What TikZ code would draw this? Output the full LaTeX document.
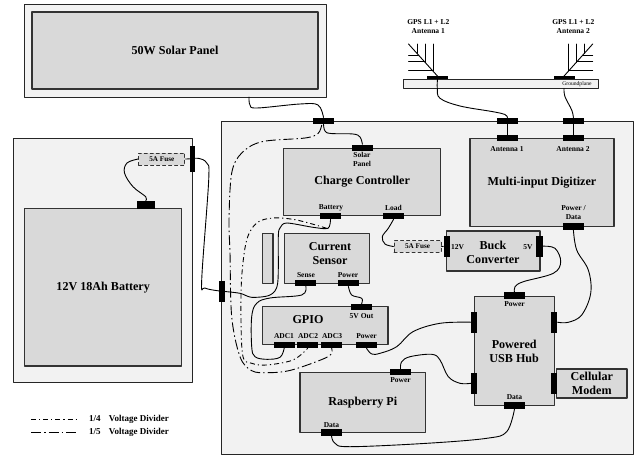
\documentclass[tikz,border=0pt]{standalone}
\usepackage{fontspec}
\setmainfont{Liberation Serif}
\usetikzlibrary{calc,positioning}

\begin{document}
\begin{tikzpicture}[x=1pt, y=-1pt, line join=round, line cap=round,
		shell/.style={draw=black!85, line width=0.9pt, fill=shellgray, inner sep=0pt},
		box/.style={draw=black!80, line width=1.1pt, fill=boxgray, inner sep=0pt, align=center, font=\titlefont},
		title/.style={inner sep=0pt, align=center, font=\titlefont},
		tag/.style={inner sep=0pt, align=center, font=\tagfont},
		portwide/.style={fill=black, inner sep=0pt, minimum width=21pt, minimum height=6.4pt},
		porttall/.style={fill=black, inner sep=0pt, minimum width=6.4pt, minimum height=21pt},
		fuse/.style={draw=black!80, dashed, line width=1pt, fill=boxgray, inner sep=0pt, font=\fusefont},
		wire/.style={black, line width=0.9pt},
		quarter/.style={black, line width=0.9pt, line cap=butt, dash pattern=on 5pt off 3pt on 1.2pt off 3pt},
		fifth/.style={black, line width=0.9pt, line cap=butt, dash pattern=on 10pt off 3pt on 1.5pt off 3pt}]
		
		% Colors and fonts
		\definecolor{shellgray}{RGB}{242, 242, 242}
		\definecolor{boxgray}{RGB}{217, 217, 217}
		\newcommand{\titlefont}{\fontsize{12.1}{14}\selectfont\bfseries}
		\newcommand{\tagfont}{\fontsize{7.5}{9}\selectfont\bfseries}
		\newcommand{\fusefont}{\fontsize{7.2}{8}\selectfont\bfseries}
		
		\useasboundingbox (0,0) rectangle (634,455);
		
		% 1. Enclosures
		\node[shell, minimum width=302pt, minimum height=93pt] (solarCase) at (175,50.5) {};
		\node[shell, minimum width=179pt, minimum height=244.7pt] (batteryCase) at (103.2,260.4) {};
		\node[shell, minimum width=411.3pt, minimum height=333pt] (mainCase) at (427.4,287.5) {};
		
		% 2. Solar panel and battery
		\node[box, minimum width=286pt, minimum height=77pt] (solar) at (175,50.5) {50W Solar Panel};
		\node[box, minimum width=157pt, minimum height=157.3pt] (battery) at (103.2,287.3) {12V 18Ah Battery};
		
		% 3. Groundplane and antennas
		\node[draw=black!85, line width=0.9pt, fill=shellgray, inner sep=0pt, minimum width=195pt, minimum height=9.3pt] (ground) at (501.2,83.6) {};
		\node[inner sep=0pt, font=\fontsize{5.6}{6}\selectfont] (groundTag) at (577,84) {Groundplane};
		\node[tag] (antennaOneTag) at (428.3,27) {GPS L1 + L2\\Antenna 1};
		\node[tag] (antennaTwoTag) at (573.3,27) {GPS L1 + L2\\Antenna 2};
		\node[portwide, minimum height=2.8pt] (groundOne) at (437.5,77.7) {};
		\node[portwide, minimum height=2.8pt] (groundTwo) at (564,77.7) {};
		
		\coordinate (tipOne) at (408.5,44);
		\coordinate (tipTwo) at (592.7,44);
		\draw[wire] (groundOne.north) -- (tipOne);
		\draw[wire] (417.5,44) -- (417.5,53.5);
		\draw[wire] (425.5,44) -- (425.5,62.5);
		\draw[wire] (433,44) -- (433,71);
		\draw[wire] (408.5,55) -- (418.5,55);
		\draw[wire] (408.5,61.7) -- (424.5,61.7);
		\draw[wire] (408.5,70) -- (432.5,70);
		\draw[wire] (groundTwo.north) -- (tipTwo);
		\draw[wire] (584,44) -- (584,53.5);
		\draw[wire] (576,44) -- (576,62.5);
		\draw[wire] (568.5,44) -- (568.5,71);
		\draw[wire] (592.7,55) -- (583,55);
		\draw[wire] (592.7,61.7) -- (577,61.7);
		\draw[wire] (592.7,70) -- (569,70);
		
		% 4. Boxes inside the main enclosure
		\node[box, minimum width=157pt, minimum height=67pt] (charge) at (362.2,181.8) {Charge Controller};
		\node[box, minimum width=144pt, minimum height=88.4pt] (digitizer) at (542,182.5) {Multi-input Digitizer};
		\node[box, minimum width=93.3pt, minimum height=40pt] (buck) at (493.3,251) {};
		\node[title] (buckTag) at (493,252) {Buck\\Converter};
		\node[box, minimum width=85.3pt, minimum height=50.4pt] (sensor) at (326.7,258.5) {};
		\node[title] (sensorTag) at (330,254) {Current\\Sensor};
		\node[box, minimum width=10.3pt, minimum height=50.4pt] (shunt) at (267.8,258.5) {};
		\node[box, minimum width=125.3pt, minimum height=38pt] (gpio) at (325.3,325.3) {};
		\node[title] (gpioTag) at (308,320) {GPIO};
		\node[box, minimum width=125.7pt, minimum height=60pt] (pi) at (362.8,402.3) {Raspberry Pi};
		\node[box, minimum width=80.3pt, minimum height=109pt] (hub) at (514.2,351.2) {Powered\\USB Hub};
		\node[box, minimum width=70.3pt, minimum height=29pt] (modem) at (591.8,383.5) {Cellular\\Modem};
		\node[fuse, minimum width=46.3pt, minimum height=12pt] (fuseBattery) at (161.8,159) {5A Fuse};
		\node[fuse, minimum width=47pt, minimum height=11.6pt] (fuseBuck) at (417.5,246.5) {5A Fuse};
		
		% 5. Ports
		\node[portwide, minimum width=18.3pt, minimum height=8pt] (batteryTop) at (145.8,204.7) {};
		\node[porttall, minimum width=5.4pt, minimum height=26.3pt] (batteryOut) at (192.5,158.8) {};
		\node[porttall] (mainLeft) at (221.7,291.2) {};
		\node[portwide] (mainSolar) at (323.5,120.9) {};
		\node[portwide] (mainOne) at (507.4,120.9) {};
		\node[portwide] (mainTwo) at (573.4,120.9) {};
		\node[portwide] (digOne) at (507.4,138.2) {};
		\node[portwide] (digTwo) at (573.4,138.2) {};
		\node[portwide] (digPower) at (573.4,226.5) {};
		\node[portwide] (chargeSolar) at (362.4,147.7) {};
		\node[portwide] (chargeBattery) at (330.5,216) {};
		\node[portwide] (chargeLoad) at (393.5,216) {};
		\node[porttall] (buckIn) at (446.7,246.2) {};
		\node[porttall] (buckOut) at (539.3,246.2) {};
		\node[portwide] (sensorSense) at (305.8,283) {};
		\node[portwide] (sensorPower) at (348.4,283) {};
		\node[portwide] (gpioOut) at (361.6,307.1) {};
		\node[portwide] (adcOne) at (284.2,344.8) {};
		\node[portwide] (adcTwo) at (307.8,344.8) {};
		\node[portwide] (adcThree) at (331.6,344.8) {};
		\node[portwide] (gpioPower) at (366.5,344.8) {};
		\node[portwide] (piPower) at (400.5,372) {};
		\node[portwide] (piData) at (331.5,432.3) {};
		\node[portwide] (hubPower) at (514.5,295.5) {};
		\node[portwide] (hubData) at (514.5,405.6) {};
		\node[porttall] (hubLeftA) at (474.1,322.2) {};
		\node[porttall] (hubLeftB) at (474.1,383.3) {};
		\node[porttall] (hubRightA) at (554.1,322.2) {};
		\node[porttall] (hubRightB) at (554.1,383.3) {};
		
		% 6. Port labels
		\node[tag] (chargeSolarTag) at (362,159.5) {Solar\\Panel};
		\node[tag] (chargeBatteryTag) at (331,207.5) {Battery};
		\node[tag] (chargeLoadTag) at (393.5,207.5) {Load};
		\node[tag] (digOneTag) at (507,149) {Antenna 1};
		\node[tag] (digTwoTag) at (573,149) {Antenna 2};
		\node[tag] (digPowerTag) at (573.5,212.5) {Power /\\Data};
		\node[tag] (buckInTag) at (457.5,247) {12V};
		\node[tag] (buckOutTag) at (528,247) {5V};
		\node[tag] (senseTag) at (306,275) {Sense};
		\node[tag] (sensorPowerTag) at (348,275.5) {Power};
		\node[tag] (gpioOutTag) at (361.5,316) {5V Out};
		\node[tag] (adcOneTag) at (284,336) {ADC1};
		\node[tag] (adcTwoTag) at (308,336) {ADC2};
		\node[tag] (adcThreeTag) at (332,336) {ADC3};
		\node[tag] (gpioPowerTag) at (366.5,336) {Power};
		\node[tag] (piPowerTag) at (400.5,380.5) {Power};
		\node[tag] (piDataTag) at (331.5,425) {Data};
		\node[tag] (hubPowerTag) at (514.5,304.5) {Power};
		\node[tag] (hubDataTag) at (514.5,397) {Data};
		
		% 7. Wires
		\draw[wire] plot[smooth, tension=0.6] coordinates {(249,97) (250,105) (257,108) (300,104) (318,105) (mainSolar.north)};
		\draw[wire] plot[smooth, tension=0.6] coordinates {(mainSolar.south) (325,131) (331,133.5) (353,134) (360,137) (chargeSolar.north)};
		\draw[wire] plot[smooth, tension=0.6] coordinates {(groundOne.south) (437.3,88.3) (440,98.3) (460,106) (493,111.7) (505,114.5) (mainOne.north)};
		\draw[wire] plot[smooth, tension=0.6] coordinates {(564,88.3) (565,96.7) (571.7,110) (mainTwo.north)};
		\draw[wire] (mainOne) -- (digOne);
		\draw[wire] (mainTwo) -- (digTwo);
		\draw[wire] plot[smooth, tension=0.6] coordinates {(batteryTop.north) (145.7,196.7) (133,186.7) (124.5,173) (127,163) (fuseBattery.west)};
		\draw[wire] (fuseBattery.east) -- (batteryOut);
		\draw[wire] plot[smooth, tension=0.6] coordinates {(batteryOut) (198.3,158.3) (206.7,163) (208.7,180) (201.7,280) (205,288) (mainLeft.center)};
		\draw[wire] plot[smooth, tension=0.5] coordinates {(mainLeft.center) (240,293.3) (251.7,297.3) (270,295) (277.7,283) (278.3,236.7) (280,228) (286.7,223) (313,227.3) (328,228.3) (chargeBattery.south)};
		\draw[wire] plot[smooth, tension=0.6] coordinates {(chargeLoad.south) (388.3,228.3) (382.3,236.7) (385,244) (fuseBuck.west)};
		\draw[wire] (fuseBuck.east) -- (buckIn);
		\draw[wire] plot[smooth, tension=0.6] coordinates {(buckOut.east) (555,248.3) (560.7,261.7) (553.3,273.3) (523.3,281.7) (515,286.7) (hubPower.north)};
		\draw[wire] plot[smooth, tension=0.6] coordinates {(digPower.south) (576.7,250) (588.3,270) (590.7,293.3) (581.7,315) (568.3,322.3) (hubRightA.east)};
		\draw[wire] plot[smooth, tension=0.6] coordinates {(sensorSense.south) (301.7,295) (270,298) (256.7,303.3) (251.7,316.7) (251.7,346.7) (255,356.7) (266.7,359.3) (280,357.3) (adcOne.south)};
		\draw[wire] plot[smooth, tension=0.6] coordinates {(sensorPower.south) (351.7,295) (361.7,298.3) (gpioOut.north)};
		\draw[wire] plot[smooth, tension=0.6] coordinates {(gpioPower.south) (371.7,354) (380,353.3) (396.7,346.7) (413,331.7) (440,323.3) (hubLeftA.west)};
		\draw[wire] plot[smooth, tension=0.6] coordinates {(piPower.north) (401.7,361.7) (410,356.7) (431.7,354.3) (440,360) (448.3,376.7) (460,383.3) (hubLeftB.west)};
		\draw[wire] plot[smooth, tension=0.6] coordinates {(piData.south) (335,443.3) (350,446.7) (426.7,443.3) (486.7,438.3) (506.7,431.7) (hubData.south)};
		
		% 8. Voltage divider lines
		\draw[fifth] plot[smooth, tension=0.55] coordinates {(321.7,125) (318,133.5) (305,138) (262,141.7) (241.7,153) (231.7,173) (229,220) (230,253) (231.7,316.7) (240,356.7) (251.7,370.7) (268,372.7) (291.7,370) (328,356.7) (adcThree.south)};
		\draw[quarter] plot[smooth, tension=0.55] coordinates {(326.7,228.3) (296.7,220) (273,218) (256.7,223) (246.7,240) (241.7,276.7) (241,320) (243,356.7) (251.7,363.3) (266.7,365) (293,360) (adcTwo.south)};
		
		% 9. Legend
		\coordinate (quarterStart) at (31,419);
		\coordinate (quarterEnd) at (78,419);
		\coordinate (fifthStart) at (31,432.7);
		\coordinate (fifthEnd) at (78,432.7);
		\draw[quarter] (quarterStart) -- (quarterEnd);
		\draw[fifth] (fifthStart) -- (fifthEnd);
		\node[inner sep=0pt, anchor=west, font=\fontsize{9}{10}\selectfont\bfseries] (quarterTag) at (89,419) {1/4\hspace{6pt} Voltage Divider};
		\node[inner sep=0pt, anchor=west, font=\fontsize{9}{10}\selectfont\bfseries] (fifthTag) at (89,432.7) {1/5\hspace{6pt} Voltage Divider};
		
	\end{tikzpicture}
\end{document}
